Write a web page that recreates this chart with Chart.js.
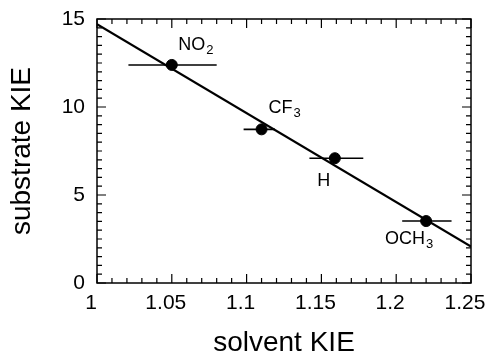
<!DOCTYPE html>
<html><head><meta charset="utf-8">
<script src="https://cdn.jsdelivr.net/npm/chart.js@4/dist/chart.umd.min.js"></script>
<style>html,body{margin:0;padding:0;background:#fff}#w{width:492px;height:356px}</style>
</head><body><div id="w"><canvas id="c" width="492" height="356"></canvas></div>
<script>
const substituents = ['NO2', 'CF3', 'H', 'OCH3'];
const solventKIE = [1.050, 1.110, 1.159, 1.220];
const substrateKIE = [12.39, 8.73, 7.09, 3.52];
const solventLow = [1.021, 1.098, 1.142, 1.204];
const solventHigh = [1.080, 1.119, 1.178, 1.237];
const fitX = [1, 1.25];
const fitY = [14.7, 2.07];
const xTicks = [1, 1.05, 1.1, 1.15, 1.2, 1.25];
const yTicks = [0, 5, 10, 15];

const FONT = '"Liberation Sans", Arial, Helvetica, sans-serif';

const labelParts = {
  'NO2': ['NO', '2'],
  'CF3': ['CF', '3'],
  'H': ['H', ''],
  'OCH3': ['OCH', '3']
};
const labelOffsets = {
  'NO2': [24, -20],
  'CF3': [23, -21],
  'H': [-11, 23],
  'OCH3': [-17, 18]
};

const framePlugin = {
  id: 'frame',
  beforeDatasetsDraw(chart) {
    const {ctx, chartArea: a, scales: {x, y}} = chart;
    ctx.save();
    ctx.strokeStyle = '#000';
    ctx.lineWidth = 1.5;
    ctx.strokeRect(a.left, a.top, a.right - a.left, a.bottom - a.top);
    ctx.lineWidth = 1.2;
    ctx.beginPath();
    for (let i = 0; i <= 25; i++) {
      const v = 1 + i * 0.01;
      const px = x.getPixelForValue(v);
      const len = (i % 5 === 0) ? 9 : 5;
      ctx.moveTo(px, a.bottom); ctx.lineTo(px, a.bottom - len);
      ctx.moveTo(px, a.top); ctx.lineTo(px, a.top + len);
    }
    for (let i = 0; i <= 30; i++) {
      const v = i * 0.5;
      const py = y.getPixelForValue(v);
      const len = (i % 10 === 0) ? 9 : 5;
      ctx.moveTo(a.left, py); ctx.lineTo(a.left + len, py);
      ctx.moveTo(a.right, py); ctx.lineTo(a.right - len, py);
    }
    ctx.stroke();
    ctx.lineWidth = 1.6;
    ctx.beginPath();
    for (let i = 0; i < solventKIE.length; i++) {
      const py = y.getPixelForValue(substrateKIE[i]);
      ctx.moveTo(x.getPixelForValue(solventLow[i]), py);
      ctx.lineTo(x.getPixelForValue(solventHigh[i]), py);
    }
    ctx.stroke();
    ctx.restore();
  },
  afterDatasetsDraw(chart) {
    const {ctx, scales: {x, y}} = chart;
    ctx.save();
    ctx.fillStyle = '#000';
    ctx.textBaseline = 'middle';
    for (let i = 0; i < substituents.length; i++) {
      const name = substituents[i];
      const [main, sub] = labelParts[name];
      const [dx, dy] = labelOffsets[name];
      const cx = x.getPixelForValue(solventKIE[i]) + dx;
      const cy = y.getPixelForValue(substrateKIE[i]) + dy;
      ctx.font = '18px ' + FONT;
      const wMain = ctx.measureText(main).width;
      ctx.font = '13px ' + FONT;
      const wSub = sub ? ctx.measureText(sub).width + 1 : 0;
      const start = cx - (wMain + wSub) / 2;
      ctx.font = '18px ' + FONT;
      ctx.textAlign = 'left';
      ctx.fillText(main, start, cy);
      if (sub) {
        ctx.font = '13px ' + FONT;
        ctx.fillText(sub, start + wMain + 1, cy + 5);
      }
    }
    ctx.restore();
  }
};

function zeroPad(s) { s.paddingLeft = 0; s.paddingRight = 0; s.paddingTop = 0; s.paddingBottom = 0; }

new Chart(document.getElementById('c'), {
  type: 'scatter',
  data: {
    datasets: [
      {
        label: 'fit',
        type: 'line',
        data: fitX.map((v, i) => ({x: v, y: fitY[i]})),
        borderColor: '#000',
        borderWidth: 2.2,
        pointRadius: 0,
        fill: false,
        order: 2
      },
      {
        label: 'data',
        data: solventKIE.map((v, i) => ({x: v, y: substrateKIE[i]})),
        backgroundColor: '#000',
        borderColor: '#000',
        pointRadius: 5.5,
        order: 1
      }
    ]
  },
  options: {
    responsive: false,
    animation: false,
    events: [],
    layout: {padding: {top: 19, right: 21, left: 0, bottom: 0}},
    plugins: {legend: {display: false}, tooltip: {enabled: false}},
    scales: {
      x: {
        type: 'linear', min: 1, max: 1.25,
        afterBuildTicks: s => { s.ticks = xTicks.map(v => ({value: v})); },
        afterFit: s => { s.height = 73; zeroPad(s); },
        grid: {display: false, drawTicks: false},
        border: {display: false},
        ticks: {
          color: '#000', padding: 8, labelOffset: -6,
          font: {family: FONT, size: 21},
          callback: v => String(Math.round(v * 100) / 100)
        },
        title: {display: true, text: 'solvent KIE', color: '#000',
          font: {family: FONT, size: 28, lineHeight: 0.9}, padding: {top: 0, bottom: 0}}
      },
      y: {
        type: 'linear', min: 0, max: 15,
        afterBuildTicks: s => { s.ticks = yTicks.map(v => ({value: v})); },
        afterFit: s => { s.width = 97; zeroPad(s); },
        grid: {display: false, drawTicks: false},
        border: {display: false},
        ticks: {
          color: '#000', padding: 12,
          font: {family: FONT, size: 21}
        },
        title: {display: true, text: 'substrate KIE', color: '#000',
          font: {family: FONT, size: 28, lineHeight: 1.2}, padding: {top: 5, bottom: 0}}
      }
    }
  },
  plugins: [framePlugin]
});
</script>
</body></html>
